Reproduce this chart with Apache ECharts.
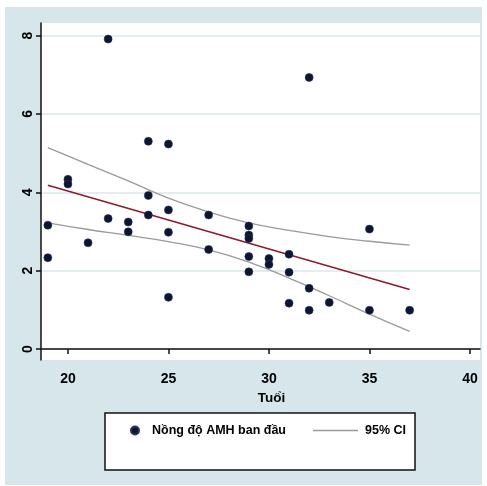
<!DOCTYPE html>
<html>
<head>
<meta charset="utf-8">
<script src="https://cdn.jsdelivr.net/npm/echarts@6/dist/echarts.min.js"></script>
<style>
  html, body { margin: 0; padding: 0; background: #fff; }
  #chart { width: 487px; height: 486px; }
</style>
</head>
<body>
<div id="chart"></div>
<script>
// tuổi / nồng độ AMH ban đầu
const ages = [19, 19, 20, 20, 21, 22, 22, 23, 23, 24, 24, 24, 25, 25, 25, 25, 27, 27,
  29, 29, 29, 29, 29, 30, 30, 31, 31, 31, 32, 32, 32, 33, 35, 35, 37];
const amh = [3.16, 2.33, 4.33, 4.21, 2.71, 7.91, 3.33, 3.24, 2.99, 5.30, 3.92, 3.42,
  5.23, 3.55, 2.98, 1.32, 3.42, 2.54, 3.14, 2.91, 2.82, 2.36, 1.97, 2.31, 2.16,
  2.42, 1.96, 1.17, 6.93, 1.55, 0.99, 1.19, 3.06, 0.99, 0.99];

// duong hoi quy + 95% CI
const fitAges = [19, 37];
const fitValues = [4.18, 1.52];
const ciAges = [19, 21, 23, 25, 27, 29, 31, 33, 35, 37];
const ciUpper = [5.14, 4.71, 4.29, 3.85, 3.50, 3.22, 3.03, 2.87, 2.75, 2.65];
const ciLower = [3.22, 3.05, 2.90, 2.74, 2.53, 2.22, 1.81, 1.36, 0.89, 0.45];

const xTicks = [20, 25, 30, 35, 40];
const yTicks = [0, 2, 4, 6, 8];

const font = "'Liberation Sans', Arial, sans-serif";
const ciColor = '#9a9a9a';
const zip = (xs, ys) => xs.map((x, i) => [x, ys[i]]);

const chart = echarts.init(document.getElementById('chart'));

const option = {
  backgroundColor: '#fff',
  animation: false,
  textStyle: { fontFamily: font },
  graphic: [
    {
      type: 'rect', z: -10, silent: true,
      shape: { x: 5, y: 7, width: 477, height: 478 },
      style: { fill: '#d6e6eb' }
    },
    {
      type: 'rect', z: 3, silent: true,
      shape: { x: 105, y: 413, width: 310, height: 57 },
      style: { fill: '#fff', stroke: '#111', lineWidth: 1.5 }
    }
  ],
  grid: {
    left: 41, top: 23, right: 7, bottom: 126,
    show: true, backgroundColor: '#fff', borderWidth: 0
  },
  legend: [
    {
      data: ['Nồng độ AMH ban đầu'],
      left: 130, top: 424, z: 5, padding: 0,
      icon: 'circle', itemWidth: 8, itemHeight: 8,
      textStyle: { fontFamily: font, fontSize: 12.5, fontWeight: 'bold', color: '#000', padding: [0, 0, 0, 8] }
    },
    {
      data: [{ name: '95% CI', icon: 'rect' }],
      left: 313, top: 424, z: 5, padding: 0,
      itemWidth: 45, itemHeight: 1.3,
      itemStyle: { color: ciColor },
      textStyle: { fontFamily: font, fontSize: 12.5, fontWeight: 'bold', color: '#000', padding: [0, 0, 0, 2] }
    }
  ],
  xAxis: {
    type: 'value', min: 18.66, max: 40.5,
    name: 'Tuổi', nameLocation: 'middle', nameGap: 27,
    nameTextStyle: { fontFamily: font, fontSize: 13.5, fontWeight: 'bold', color: '#000', padding: [0, 0, 0, 22] },
    axisLine: { lineStyle: { color: '#111', width: 1.5 } },
    axisTick: { customValues: xTicks, length: 5, lineStyle: { color: '#111', width: 1.5 } },
    axisLabel: { customValues: xTicks, margin: 12, fontFamily: font, fontSize: 14, fontWeight: 'bold', color: '#000' },
    splitLine: { show: false }
  },
  yAxis: {
    type: 'value', min: -0.28, max: 8.32,
    axisLine: { show: true, lineStyle: { color: '#111', width: 1.5 } },
    axisTick: { show: true, customValues: yTicks, length: 5, lineStyle: { color: '#111', width: 1.5 } },
    axisLabel: { customValues: yTicks, rotate: 90, margin: 6, fontFamily: font, fontSize: 14, fontWeight: 'bold', color: '#000' },
    splitLine: { show: true, lineStyle: { color: '#e4eef1', width: 2 } }
  },
  series: [
    {
      name: 'Nồng độ AMH ban đầu',
      type: 'scatter',
      symbolSize: 8,
      itemStyle: { color: '#0f1430', opacity: 1, borderColor: '#22385a', borderWidth: 0.6 },
      data: zip(ages, amh),
      z: 4
    },
    {
      name: 'Fit',
      type: 'line',
      symbol: 'none',
      lineStyle: { color: '#8e1b2c', width: 1.6 },
      data: zip(fitAges, fitValues),
      z: 3
    },
    {
      name: '95% CI',
      type: 'line',
      symbol: 'none',
      smooth: true,
      itemStyle: { color: ciColor },
      lineStyle: { color: ciColor, width: 1.3 },
      data: zip(ciAges, ciUpper),
      z: 3
    },
    {
      name: '95% CI',
      type: 'line',
      symbol: 'none',
      smooth: true,
      itemStyle: { color: ciColor },
      lineStyle: { color: ciColor, width: 1.3 },
      data: zip(ciAges, ciLower),
      z: 3
    }
  ]
};

chart.setOption(option);
</script>
</body>
</html>
